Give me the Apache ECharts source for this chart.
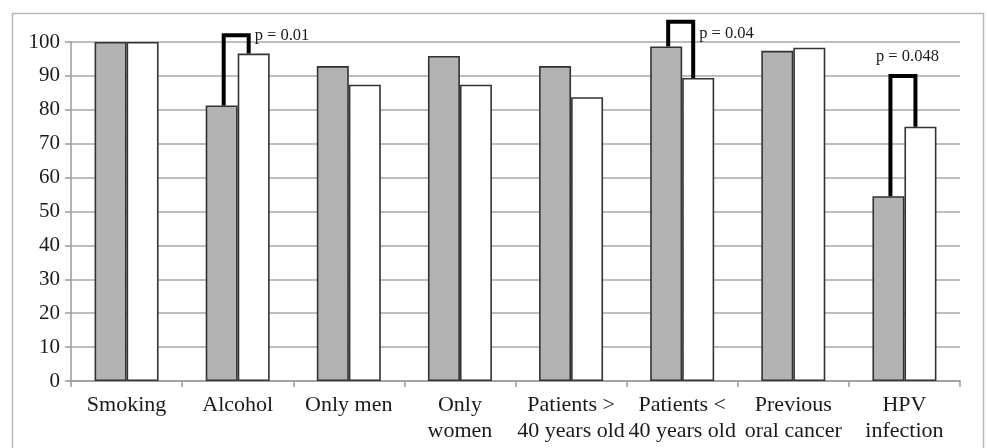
<!DOCTYPE html>
<html>
<head>
<meta charset="utf-8">
<script src="https://cdn.jsdelivr.net/npm/echarts@6/dist/echarts.min.js"></script>
<style>
html,body{margin:0;padding:0;background:#fff;}
#chart{width:987px;height:448px;}
</style>
</head>
<body>
<div id="chart"></div>
<script>
// ---- data ----
const categories = ['Smoking', 'Alcohol', 'Only men', 'Only\nwomen', 'Patients >\n40 years old', 'Patients <\n40 years old', 'Previous\noral cancer', 'HPV\ninfection'];
const seriesGray  = [100, 81.3, 92.9, 95.9, 92.9, 98.7, 97.4, 54.5];
const seriesWhite = [100, 96.6, 87.4, 87.4, 83.7, 89.4, 98.3, 75.0];
const yTicks = [0, 10, 20, 30, 40, 50, 60, 70, 80, 90, 100];
// significance brackets
const bracketCats   = [1, 5, 7];
const bracketTop    = [102, 106, 90];
const pLabels       = ['p = 0.01', 'p = 0.04', 'p = 0.048'];
const pLabelAt      = [102, 102.5, 95.6];

const FONT = "'Liberation Serif', 'Times New Roman', serif";
const chart = echarts.init(document.getElementById('chart'), null, {renderer: 'canvas'});

const bracketData = bracketCats.map((c, i) => [c, seriesGray[c], seriesWhite[c], bracketTop[i], pLabelAt[i], i]);

const option = {
  animation: false,
  backgroundColor: '#fff',
  grid: {left: 71, right: 27, top: 42, bottom: 67},
  graphic: [{
    type: 'rect', z: -10, silent: true,
    shape: {x: 12.5, y: 13.5, width: 971, height: 460},
    style: {fill: 'none', stroke: '#b8b8b8', lineWidth: 1.5}
  }],
  xAxis: {
    type: 'category',
    data: categories,
    axisLine: {show: true, lineStyle: {color: '#9a9a9a', width: 1.5}},
    axisTick: {show: true, length: 6, lineStyle: {color: '#9a9a9a', width: 1.5}},
    axisLabel: {fontFamily: FONT, fontSize: 22, color: '#1a1a1a', lineHeight: 26, margin: 11, interval: 0}
  },
  yAxis: {
    type: 'value', min: 0, max: 100, interval: 10,
    axisLine: {show: true, lineStyle: {color: '#9a9a9a', width: 1.5}},
    axisTick: {show: true, length: 6, lineStyle: {color: '#9a9a9a', width: 1.5}},
    splitLine: {show: true, lineStyle: {color: '#a8a8a8', width: 1.5}},
    axisLabel: {fontFamily: FONT, fontSize: 21, color: '#1a1a1a', margin: 11,
      formatter: v => yTicks.indexOf(v) >= 0 ? String(v) : ''}
  },
  series: [
    {
      type: 'bar', data: seriesGray, barWidth: 32, barGap: '0%',
      itemStyle: {color: '#b3b3b3', borderColor: '#333333', borderWidth: 1.6}
    },
    {
      type: 'bar', data: seriesWhite, barWidth: 32, barGap: '0%',
      itemStyle: {color: '#ffffff', borderColor: '#333333', borderWidth: 1.6}
    },
    {
      type: 'custom',
      clip: false,
      z: 10,
      data: bracketData,
      encode: {x: 0, y: 3},
      renderItem: function (params, api) {
        const c = api.value(0);
        const idx = api.value(5);
        const cx = api.coord([c, 0])[0];
        const yL = api.coord([c, api.value(1)])[1];
        const yR = api.coord([c, api.value(2)])[1];
        const yT = api.coord([c, api.value(3)])[1];
        const yLab = api.coord([c, api.value(4)])[1];
        const xL = cx - 14, xR = cx + 11;
        const centered = idx === 2;
        return {
          type: 'group',
          children: [
            {
              type: 'polyline',
              shape: {points: [[xL, yL], [xL, yT], [xR, yT], [xR, yR]]},
              style: {stroke: '#000', lineWidth: 4, fill: 'none', lineJoin: 'miter'}
            },
            {
              type: 'text',
              style: {
                text: pLabels[idx],
                x: centered ? cx + 3 : xR + 6,
                y: yLab,
                align: centered ? 'center' : 'left',
                verticalAlign: 'middle',
                font: '16.5px ' + FONT,
                fill: '#1a1a1a'
              }
            }
          ]
        };
      }
    }
  ]
};
chart.setOption(option);
</script>
</body>
</html>
